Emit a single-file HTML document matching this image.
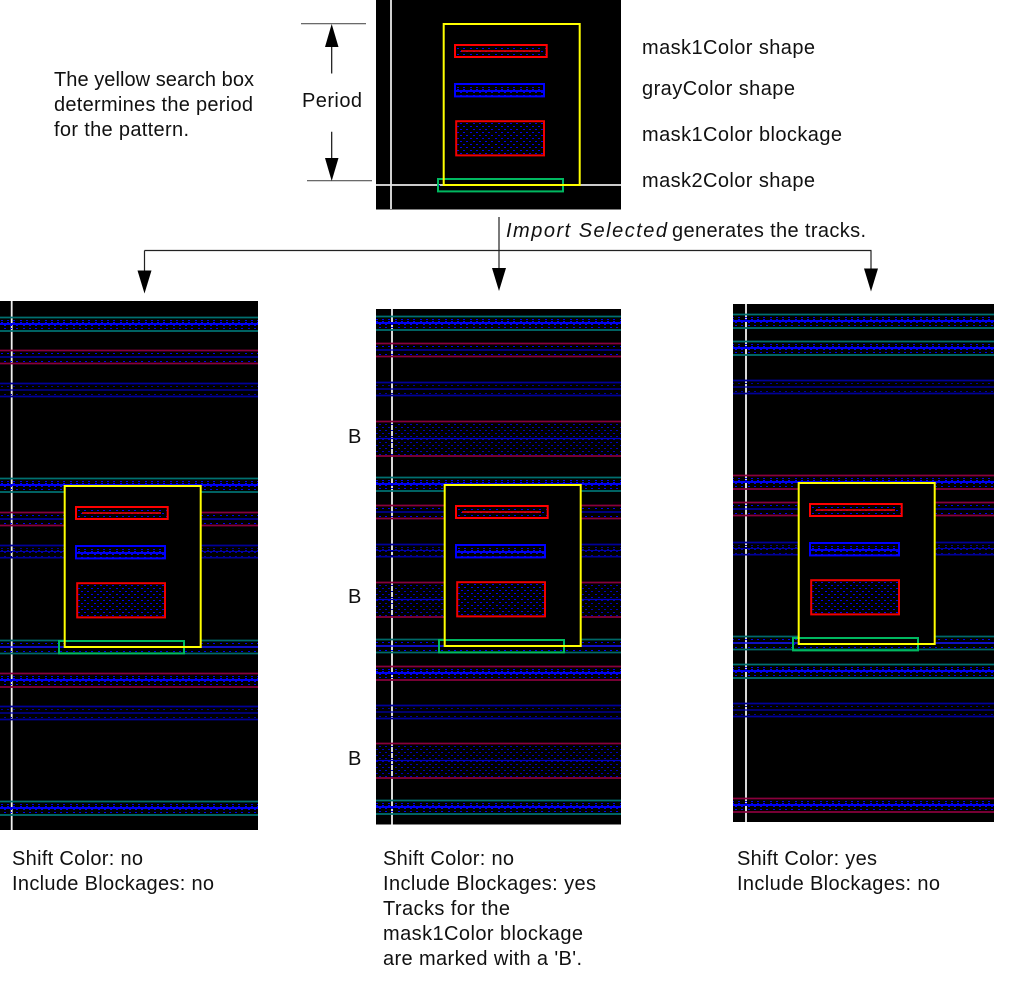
<!DOCTYPE html>
<html><head><meta charset="utf-8"><title>Track pattern</title>
<style>
html,body{margin:0;padding:0;background:#fff;width:1015px;height:996px;overflow:hidden}
svg{display:block}
text{font-family:"Liberation Sans",sans-serif;font-size:20px;fill:#111}
</style></head><body>
<svg xmlns="http://www.w3.org/2000/svg" width="1015" height="996" viewBox="0 0 1015 996">
<defs>
<pattern id="p" patternUnits="userSpaceOnUse" width="25" height="14">
<path fill="#0000f0" d="M1 3h2v1h-2zM7 3h2v1h-2zM13 3h2v1h-2zM20 3h2v1h-2zM4 11h2v1h-2zM10 11h2v1h-2zM16 11h2v1h-2zM23 11h2v1h-2z"/>
</pattern>
<pattern id="pd" patternUnits="userSpaceOnUse" width="25" height="14">
<path fill="#0000a0" d="M1 3h2v1h-2zM7 3h2v1h-2zM13 3h2v1h-2zM20 3h2v1h-2zM4 11h2v1h-2zM10 11h2v1h-2zM16 11h2v1h-2zM23 11h2v1h-2z"/>
</pattern>
<pattern id="c" patternUnits="userSpaceOnUse" width="25" height="14">
<path fill="#0000f0" d="M1 3h2v1h-2zM7 3h2v1h-2zM13 3h2v1h-2zM20 3h2v1h-2zM4 11h2v1h-2zM10 11h2v1h-2zM16 11h2v1h-2zM23 11h2v1h-2z"/>
<path fill="#0000f0" d="M0 6h25v2h-25zM1 5h2v1h-2zM7 5h2v1h-2zM13 5h2v1h-2zM20 5h2v1h-2zM4 8h2v1h-2zM10 8h2v1h-2zM16 8h2v1h-2zM23 8h2v1h-2z"/>
</pattern>
<pattern id="cd" patternUnits="userSpaceOnUse" width="25" height="14">
<path fill="#0000a0" d="M1 3h2v1h-2zM7 3h2v1h-2zM13 3h2v1h-2zM20 3h2v1h-2zM4 11h2v1h-2zM10 11h2v1h-2zM16 11h2v1h-2zM23 11h2v1h-2z"/>
<path fill="#0000a8" d="M0 6h25v1h-25zM1 5h2v1h-2zM7 5h2v1h-2zM13 5h2v1h-2zM20 5h2v1h-2zM4 7h2v1h-2zM10 7h2v1h-2zM16 7h2v1h-2zM23 7h2v1h-2z"/>
</pattern>
<pattern id="q" patternUnits="userSpaceOnUse" width="25" height="6">
<path fill="#0000f0" d="M1 0h2v1h-2zM7 0h2v1h-2zM13 0h2v1h-2zM20 0h2v1h-2zM4 3h2v1h-2zM10 3h2v1h-2zM16 3h2v1h-2zM23 3h2v1h-2z"/>
</pattern>
<pattern id="qd" patternUnits="userSpaceOnUse" width="25" height="6">
<path fill="#0000c0" d="M1 0h2v1h-2zM7 0h2v1h-2zM13 0h2v1h-2zM20 0h2v1h-2zM4 3h2v1h-2zM10 3h2v1h-2zM16 3h2v1h-2zM23 3h2v1h-2z"/>
</pattern>

<g id="tc"><rect width="1015" height="14" fill="url(#c)"/><path d="M0 .5H1015M0 14H1015" stroke="#007070" stroke-width="1.800"/></g>
<g id="tt"><rect width="1015" height="14" fill="url(#p)"/><path d="M0 7H1015" stroke="#1414ff" stroke-width="1.500"/><path d="M0 .5H1015M0 13.500H1015" stroke="#006868" stroke-width="1.700"/></g>
<g id="rc"><rect width="1015" height="14" fill="url(#c)"/><path d="M0 .5H1015M0 14H1015" stroke="#88003c" stroke-width="1.800"/></g>
<g id="rt"><rect width="1015" height="14" fill="url(#p)"/><path d="M0 7H1015" stroke="#0000c8" stroke-width="1.300"/><path d="M0 .5H1015M0 13.500H1015" stroke="#88003c" stroke-width="1.800"/></g>
<g id="bt"><rect width="1015" height="14" fill="url(#pd)"/><path d="M0 7H1015" stroke="#0000b0" stroke-width="1.200"/><path d="M0 .5H1015M0 13.500H1015" stroke="#000098" stroke-width="1.700"/></g>
<g id="bc"><rect width="1015" height="13" fill="url(#cd)"/><path d="M0 .5H1015M0 12.700H1015" stroke="#000098" stroke-width="1.700"/></g>
<g id="bk"><rect width="1015" height="35" fill="url(#qd)"/><path d="M0 17.500H1015" stroke="#0000c0" stroke-width="1.300"/><path d="M0 .5H1015M0 35H1015" stroke="#88003c" stroke-width="1.800"/></g>

<g id="cell" fill="none">
<rect x="443.700" y="24" width="136" height="161" fill="#000"/>
<rect x="455" y="45" width="91.700" height="12" fill="url(#q)" stroke="#ff0000" stroke-width="2"/>
<path d="M461 51H540" stroke="#ff0000" stroke-width="1.600"/>
<rect x="455" y="84" width="89" height="12.400" fill="url(#c)" stroke="#0000ff" stroke-width="2"/>
<rect x="456.200" y="121.200" width="87.800" height="34.200" fill="url(#q)" stroke="#f00000" stroke-width="2"/>
<rect x="438" y="179" width="125" height="12.400" fill="url(#p)" stroke="#00b860" stroke-width="2"/>
<rect x="443.700" y="24" width="136" height="161" stroke="#ffff00" stroke-width="2"/>
</g>
<path id="ad" d="M-7 0H7L0 23Z" fill="#000"/>
</defs>

<!-- top panel -->
<rect x="376" y="0" width="245" height="209.500" fill="#000"/>
<path d="M391 0V209" stroke="#e8e8e8" stroke-width="1.800"/>
<path d="M376 185H621" stroke="#e8e8e8" stroke-width="1.800"/>
<use href="#cell"/>

<!-- left panel -->
<svg x="0" y="301" width="258" height="529" viewBox="0 301 258 529">
<rect x="0" y="301" width="258" height="529" fill="#000"/>
<path d="M11.700 301V830" stroke="#f0f0f0" stroke-width="1.800"/>
<use href="#tc" y="317"/><use href="#rt" y="350"/><use href="#bt" y="383"/>
<use href="#tc" y="478"/><use href="#rt" y="512"/><use href="#bc" y="545"/>
<use href="#tt" y="640"/><use href="#rc" y="673"/><use href="#bt" y="706"/><use href="#tc" y="801"/>
<use href="#cell" transform="translate(-379 462)"/>
</svg>

<!-- middle panel -->
<svg x="376" y="309" width="245" height="515.500" viewBox="376 309 245 515.500">
<rect x="376" y="309" width="245" height="516" fill="#000"/>
<path d="M392 309V825" stroke="#f0f0f0" stroke-width="1.800"/>
<use href="#tc" y="316"/><use href="#rt" y="343"/><use href="#bt" y="382"/>
<use href="#bk" y="421"/><use href="#tc" y="477"/><use href="#rt" y="505"/><use href="#bc" y="544"/>
<use href="#bk" y="582"/><use href="#tt" y="639"/><use href="#rc" y="666"/><use href="#bt" y="705"/>
<use href="#bk" y="743"/><use href="#tc" y="800"/>
<use href="#cell" transform="translate(1 461)"/>
</svg>

<!-- right panel -->
<svg x="733" y="304" width="261" height="518" viewBox="733 304 261 518">
<rect x="733" y="304" width="261" height="518" fill="#000"/>
<path d="M746 304V822" stroke="#f0f0f0" stroke-width="1.800"/>
<use href="#tc" y="314"/><use href="#tc" y="341"/><use href="#bt" y="380"/>
<use href="#rc" y="475"/><use href="#rt" y="502"/><use href="#bc" y="542"/>
<use href="#tt" y="636"/><use href="#tc" y="664"/><use href="#bt" y="703"/><use href="#rc" y="798"/>
<use href="#cell" transform="translate(355 459)"/>
</svg>

<!-- period -->
<path d="M301 23.700H366M307 180.700H372" stroke="#555" stroke-width="1.200"/>
<path d="M331.700 46V73.500M331.700 131.700V159" stroke="#111" stroke-width="1.200"/>
<path d="M331.700 24L338.500 47H325Z" fill="#000"/>
<path d="M331.700 181L338.500 158H325Z" fill="#000"/>

<!-- connectors -->
<path d="M144.500 250.500H871.500" stroke="#222" stroke-width="1.200"/>
<path d="M144.500 250.500V271M499 217V268M871 250.500V269" stroke="#222" stroke-width="1.200"/>
<use href="#ad" x="144.500" y="270.500"/>
<use href="#ad" x="499" y="268"/>
<use href="#ad" x="871" y="268.500"/>

<!-- labels -->
<text x="54" y="86" textLength="200" lengthAdjust="spacing">The yellow search box</text>
<text x="54" y="111" textLength="199" lengthAdjust="spacing">determines the period</text>
<text x="54" y="136" textLength="135" lengthAdjust="spacing">for the pattern.</text>
<text x="302" y="107" textLength="60" lengthAdjust="spacing">Period</text>
<text x="642" y="54" textLength="173" lengthAdjust="spacing">mask1Color shape</text>
<text x="642" y="95" textLength="153" lengthAdjust="spacing">grayColor shape</text>
<text x="642" y="141" textLength="200" lengthAdjust="spacing">mask1Color blockage</text>
<text x="642" y="187" textLength="173" lengthAdjust="spacing">mask2Color shape</text>
<text x="506" y="237" textLength="161" lengthAdjust="spacing" font-style="italic">Import Selected</text>
<text x="672" y="237" textLength="194" lengthAdjust="spacing">generates the tracks.</text>
<text x="348" y="443">B</text>
<text x="348" y="603">B</text>
<text x="348" y="765">B</text>
<text x="12" y="865" textLength="131" lengthAdjust="spacing">Shift Color: no</text>
<text x="12" y="890" textLength="202" lengthAdjust="spacing">Include Blockages: no</text>
<text x="383" y="865" textLength="131" lengthAdjust="spacing">Shift Color: no</text>
<text x="383" y="890" textLength="213" lengthAdjust="spacing">Include Blockages: yes</text>
<text x="383" y="915" textLength="127" lengthAdjust="spacing">Tracks for the</text>
<text x="383" y="940" textLength="200" lengthAdjust="spacing">mask1Color blockage</text>
<text x="383" y="965" textLength="199" lengthAdjust="spacing">are marked with a 'B'.</text>
<text x="737" y="865" textLength="140" lengthAdjust="spacing">Shift Color: yes</text>
<text x="737" y="890" textLength="203" lengthAdjust="spacing">Include Blockages: no</text>
</svg>
</body></html>
